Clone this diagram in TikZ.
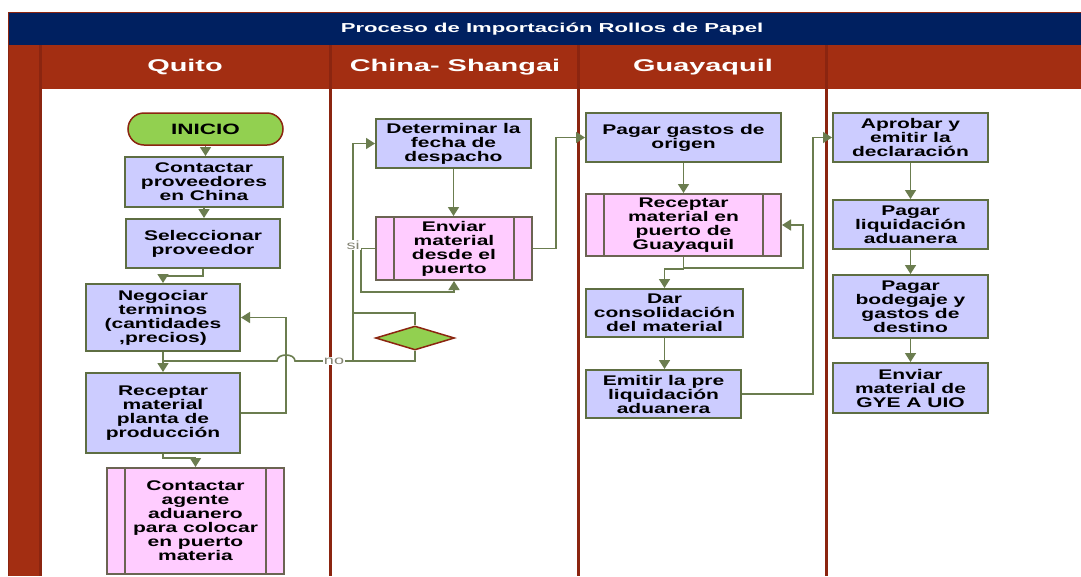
\documentclass[tikz,border=0pt]{standalone}
\usepackage{fontspec}
\setmainfont{Liberation Sans}
\newfontfamily\bx[FakeStretch=1.5]{Liberation Sans}
\newfontfamily\hx[FakeStretch=1.7]{Liberation Sans}
\usetikzlibrary{arrows.meta,shapes.geometric}
\definecolor{navy}{HTML}{002060}
\definecolor{hred}{HTML}{A32E12}
\definecolor{lred}{HTML}{8B2510}
\definecolor{boxf}{HTML}{CCCCFF}
\definecolor{boxb}{HTML}{5E6E42}
\definecolor{pinkf}{HTML}{FFCCFF}
\definecolor{pinkb}{HTML}{6B6452}
\definecolor{cline}{HTML}{6B7D4F}
\definecolor{grn}{HTML}{92D050}
\definecolor{lbl}{HTML}{858575}
\tikzset{
  box/.style={draw=boxb, line width=2pt, fill=boxf, align=center, inner sep=0pt, text=black,
    font=\bx\bfseries\fontsize{14}{14}\selectfont},
  sub/.style={box, draw=pinkb, fill=pinkf,
    path picture={\draw[pinkb, line width=2pt]
      ([xshift=18pt]path picture bounding box.north west) -- ([xshift=18pt]path picture bounding box.south west)
      ([xshift=-18pt]path picture bounding box.north east) -- ([xshift=-18pt]path picture bounding box.south east);}},
  term/.style={draw=lred, line width=1.5pt, fill=grn, rounded corners=16pt, align=center, inner sep=0pt,
    font=\bx\bfseries\fontsize{15}{15}\selectfont},
  dec/.style={draw=lred, line width=1.5pt, fill=grn, diamond, inner sep=0pt},
  conn/.style={draw=cline, line width=1.6pt},
  arr/.style={conn, -{Triangle[width=11pt,length=9pt]}},
  lane/.style={draw=lred, line width=3pt},
  hdr/.style={text=white, font=\hx\bfseries\fontsize{17}{17}\selectfont},
  ttl/.style={text=white, font=\hx\bfseries\fontsize{13}{13}\selectfont},
  lab/.style={text=lbl, fill=white, inner sep=1pt, font=\bx\fontsize{12}{12}\selectfont}
}
\begin{document}
\begin{tikzpicture}[x=1pt,y=-1pt]
\fill[white] (0,0) rectangle (1081,576);
\useasboundingbox (0,0) rectangle (1081,576);
% frame
\fill[navy] (8,12) rectangle (1081,45);
\fill[hred] (8,45) rectangle (1081,89);
\fill[hred] (8,89) rectangle (41,576);
\draw[lred, line width=1pt] (8.5,576) -- (8.5,12.5) -- (1081,12.5);
\draw[lane] (40.5,45) -- (40.5,576);
\draw[lane] (330,45) -- (330,576);
\draw[lane] (578,45) -- (578,576);
\draw[lane] (826,45) -- (826,576);
\node[ttl] (title) at (552,29) {Proceso de Importación Rollos de Papel};
\node[hdr] (hq) at (185,67) {Quito};
\node[hdr] (hc) at (455,67) {China- Shangai};
\node[hdr] (hg) at (703,67) {Guayaquil};
% nodes
\node[term, minimum width=155pt, minimum height=32pt] (ini) at (205.5,129) {INICIO};
\node[box, minimum width=158pt, minimum height=50pt] (c1) at (204,182) {Contactar\\proveedores\\en China};
\node[box, minimum width=154pt, minimum height=49pt] (c2) at (203,243.5) {Seleccionar\\proveedor};
\node[box, minimum width=154pt, minimum height=67pt] (c3) at (163,317.5) {Negociar\\terminos\\(cantidades\\,precios)};
\node[box, minimum width=154pt, minimum height=80pt] (c4) at (163,413) {Receptar\\material\\planta de\\producción};
\node[sub, minimum width=177pt, minimum height=106pt] (c5) at (195.5,521) {Contactar\\agente\\aduanero\\para colocar\\en puerto\\materia};
\node[box, minimum width=155pt, minimum height=49pt] (d1) at (453.5,143.5) {Determinar la\\fecha de\\despacho};
\node[sub, minimum width=156pt, minimum height=63pt] (d2) at (454,248.5) {Enviar\\material\\desde el\\puerto};
\node[dec, minimum width=79pt, minimum height=24pt] (dia) at (415,338) {};
\node[box, minimum width=195pt, minimum height=49pt] (g1) at (683.5,137.5) {Pagar gastos de\\origen};
\node[sub, minimum width=195pt, minimum height=62pt] (g2) at (683.5,225) {Receptar\\material en\\puerto de\\Guayaquil};
\node[box, minimum width=157pt, minimum height=48pt] (g3) at (664.5,313) {Dar\\consolidación\\del material};
\node[box, minimum width=155pt, minimum height=48pt] (g4) at (663.5,394) {Emitir la pre\\liquidación\\aduanera};
\node[box, minimum width=155pt, minimum height=49pt] (a1) at (910.5,137.5) {Aprobar y\\emitir la\\declaración};
\node[box, minimum width=155pt, minimum height=49pt] (a2) at (910.5,224.5) {Pagar\\liquidación\\aduanera};
\node[box, minimum width=155pt, minimum height=63pt] (a3) at (910.5,306.5) {Pagar\\bodegaje y\\gastos de\\destino};
\node[box, minimum width=155pt, minimum height=50pt] (a4) at (910.5,388) {Enviar\\material de\\GYE A UIO};
% coordinates
\coordinate (nb) at (415,361);
\coordinate (sv) at (353,361);
\coordinate (sj) at (353,313);
\coordinate (hr) at (295,361);
\coordinate (hl) at (277,361);
\coordinate (nj) at (163,361);
\coordinate (lp) at (361,292);
\coordinate (gl) at (803,268);
% connectors
\draw[arr] (ini.south) -- (ini.south |- c1.north);
\draw[arr] (c1.south) -- (c1.south |- c2.north);
\draw[arr] (c2.south) -- ++(0,7) -| (c3.north);
\draw[arr] (c3.south) -- (c4.north);
\draw[arr] (c4.south) -- ++(0,4) -| (c5.north);
\draw[arr] (c4.east) -- ++(45,0) |- (c3.east);
\draw[conn] (dia.south) -- (nb) -- (sv) -- (hr) .. controls (295,353) and (277,353) .. (hl) -- (nj);
\draw[conn] (dia.north) |- (sj);
\draw[arr] (sv) |- (d1.west);
\draw[arr] (d1.south) -- (d1.south |- d2.north);
\draw[arr] (d2.west) -| (lp) -| (d2.south);
\draw[arr] (d2.east) -- ++(23,0) |- (g1.west);
\draw[arr] (g1.south) -- (g2.north);
\draw[arr] (g2.south) -- ++(0,12) -| (g3.north);
\draw[arr] (g2.south) |- (gl) |- (g2.east);
\draw[arr] (g3.south) -- (g3.south |- g4.north);
\draw[arr] (g4.east) -- ++(71,0) |- (a1.west);
\draw[arr] (a1.south) -- (a2.north);
\draw[arr] (a2.south) -- (a3.north);
\draw[arr] (a3.south) -- (a4.north);
\node[lab] (no) at (334,361) {no};
\node[lab] (si) at (353,245) {si};
\end{tikzpicture}
\end{document}
